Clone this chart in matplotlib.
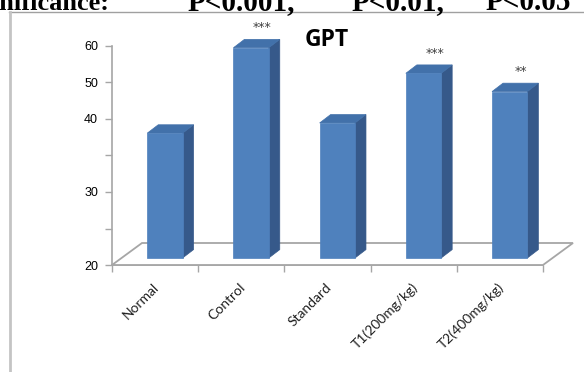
import numpy as np
import matplotlib
matplotlib.use('Agg')
import matplotlib.pyplot as plt
import matplotlib.transforms as mtransforms
from matplotlib.patches import Polygon
from matplotlib.lines import Line2D

# data
groups = ['Normal', 'Control', 'Standard', 'T1(200mg/kg)', 'T2(400mg/kg)']
gpt = [37.1, 57.6, 38.5, 50.6, 45.6]
stars = ['', '***', '', '***', '**']
ytick_values = [20, 25, 30, 35, 40, 50, 60]
ytick_labels = ['20', '', '30', '', '40', '50', '60']

W, H = 584, 372
FRONT = '#4F81BD'
SIDE = '#36598A'
TOP = '#4271AA'
GRID = '#A6A6A6'


def fwd(v):
    v = np.asarray(v, dtype=float)
    return np.where(v <= 40, (v - 20) / 5.0, 4 + (v - 40) / 10.0)


def inv(u):
    u = np.asarray(u, dtype=float)
    return np.where(u <= 4, 20 + 5.0 * u, 40 + 10.0 * (u - 4))


def main():
    fig = plt.figure(figsize=(W / 100, H / 100), dpi=100)
    ax = fig.add_axes([112 / W, (H - 265) / H, (543 - 112) / W, (265 - 46) / H])
    ax.set_yscale('function', functions=(fwd, inv))
    ax.set_xlim(-0.5, len(groups) - 0.5)
    ax.set_ylim(20, 60)
    ax.patch.set_visible(False)

    ax.set_yticks(ytick_values)
    ax.set_yticklabels(ytick_labels, fontsize=9, family='Liberation Sans')
    ax.yaxis.set_minor_locator(matplotlib.ticker.NullLocator())
    ax.set_xticks(np.arange(-0.5, len(groups), 1))
    ax.set_xticklabels([])
    ax.tick_params(axis='both', direction='out', length=5, width=1, color=GRID, pad=5)
    for s in ['top', 'right']:
        ax.spines[s].set_visible(False)
    for s in ['left', 'bottom']:
        ax.spines[s].set_color(GRID)
        ax.spines[s].set_linewidth(1.2)

    fig.canvas.draw()
    ident = mtransforms.IdentityTransform()

    # floor of the 3d plot
    fl = ax.transData.transform((-0.5, 20))
    fr = ax.transData.transform((len(groups) - 0.5, 20))
    ddx, ddy = 30, 22
    floor = Polygon([fl, (fl[0] + ddx, fl[1] + ddy), (fr[0] + ddx, fr[1] + ddy), fr],
                    closed=True, facecolor='white', edgecolor=GRID, lw=1.3,
                    transform=ident, zorder=1)
    fig.add_artist(floor)

    # bars
    w = 0.41
    ox, oy = 9.8, 7
    dx, dy = 11, 8.4
    for i, v in enumerate(gpt):
        p0 = ax.transData.transform((i - w / 2, 20))
        p1 = ax.transData.transform((i + w / 2, v))
        x0, y0 = p0[0] + ox, p0[1] + oy
        x1, y1 = p1[0] + ox, p1[1] + oy
        front = [(x0, y0), (x1, y0), (x1, y1), (x0, y1)]
        side = [(x1, y0), (x1 + dx, y0 + dy), (x1 + dx, y1 + dy), (x1, y1)]
        top = [(x0, y1), (x1, y1), (x1 + dx, y1 + dy), (x0 + dx, y1 + dy)]
        for pts, c in [(side, SIDE), (top, TOP), (front, FRONT)]:
            fig.add_artist(Polygon(pts, closed=True, facecolor=c, edgecolor=c,
                                   lw=0.5, transform=ident, zorder=2))

        if stars[i]:
            tr = mtransforms.offset_copy(ax.transData, fig=fig, x=21, y=27, units='dots')
            ax.text(i, v, stars[i], transform=tr, ha='center', va='center',
                    fontsize=9, color='#404040', clip_on=False)

    # category labels
    tr = mtransforms.offset_copy(ax.transData, fig=fig, x=2, y=-20, units='dots')
    for i, g in enumerate(groups):
        ax.text(i, 20, g, transform=tr, rotation=45, rotation_mode='anchor',
                ha='right', va='center', fontsize=10, family='Lato', color='#202020')

    # title
    fig.text(327 / W, (H - 40) / H, 'GPT', ha='center', va='center',
             fontsize=16.5, fontweight='bold', family='Open Sans')

    # chart border
    fig.add_artist(Line2D([9 / W, 1], [(H - 12) / H] * 2, color='#A0A0A0', lw=1,
                          transform=fig.transFigure))
    fig.add_artist(Line2D([9.5 / W] * 2, [0, (H - 12) / H], color='#C4C4C4', lw=2,
                          transform=fig.transFigure))

    # caption of the page, cut off at the top (stars are superscripts above the edge)
    base = (H - 10) / H
    fig.text(110 / W, base, 'Significance:', ha='right', va='baseline', fontsize=19,
             fontweight='bold', family='Liberation Serif')
    for txt, sup, xl, xr in [('P<0.001,', '***', 185, 297), ('P<0.01,', '**', 348, 447),
                             ('P<0.05', '*', 483, 573)]:
        fig.text((xl + xr) / 2 / W, base, txt, ha='center', va='baseline', fontsize=21,
                 fontweight='bold', family='Liberation Serif')
        fig.text((xl - 1) / W, (H + 2) / H, sup, ha='right', va='baseline',
                 fontsize=13, fontweight='bold', family='Liberation Serif')

    fig.savefig('out.png', dpi=100)


if __name__ == '__main__':
    main()
